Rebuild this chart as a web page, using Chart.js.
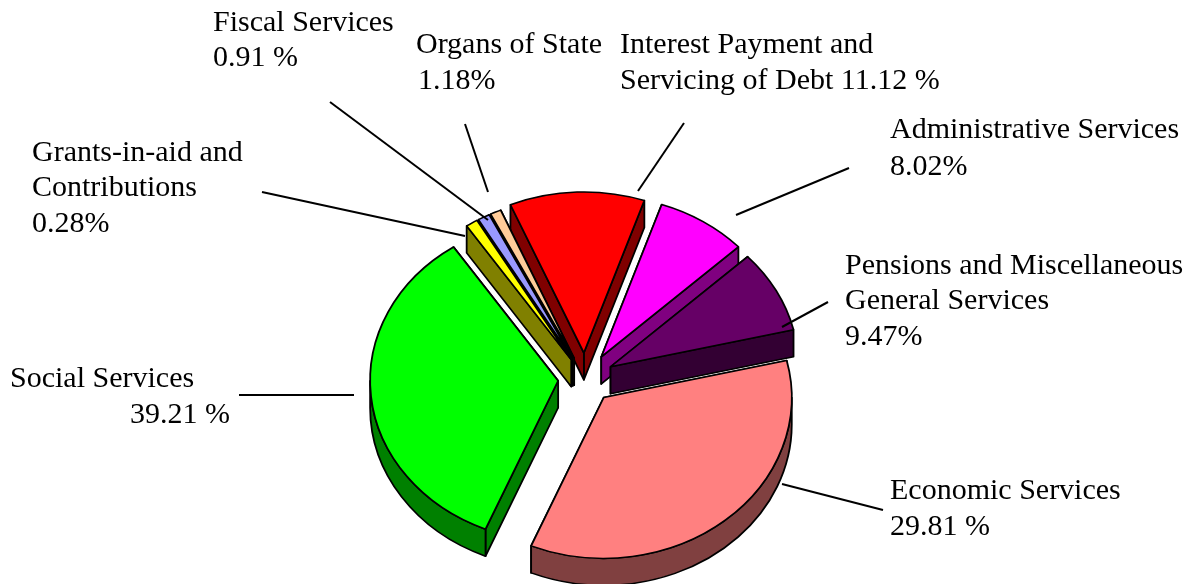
<!DOCTYPE html>
<html>
<head>
<meta charset="utf-8">
<style>html,body{margin:0;padding:0;background:#fff}#wrap{width:1189px;height:584px}canvas{display:block}</style>
<script src="https://cdn.jsdelivr.net/npm/chart.js@4"></script>
</head>
<body>
<div id="wrap"><canvas id="c" width="1189" height="584"></canvas></div>
<script>
// Categories, clockwise from the top slice
const categories = ['Interest Payment and Servicing of Debt','Administrative Services','Pensions and Miscellaneous General Services','Economic Services','Social Services','Grants-in-aid and Contributions','Fiscal Services','Organs of State'];
// Slice shares as measured from the drawn wedge angles. The reference's wedges do not
// follow its printed percentages exactly (Economic is drawn larger, Social smaller),
// so the printed figures are kept separately, in labelLines, as text.
const sliceShares = [11.6, 7.8, 8.3, 35.0, 34.3, 1.03, 1.03, 0.94];
const fillColors = ['#FF0000','#FF00FF','#660066','#FF8080','#00FF00','#FFFF00','#9999FF','#FFCC99'];
const sideColors = ['#800000','#800080','#330033','#804040','#008000','#808000','#4C4C80','#806650'];
const explode = [30, 30, 29, 29, 27, 26, 26, 26];
const labelLines = [
  {x:213,y:31,t:'Fiscal Services'},{x:213,y:66,t:'0.91 %'},
  {x:416,y:53,t:'Organs of State'},{x:418,y:89,t:'1.18%'},
  {x:620,y:53,t:'Interest Payment and'},{x:620,y:89,t:'Servicing of Debt 11.12 %'},
  {x:890,y:138,t:'Administrative Services'},{x:890,y:175,t:'8.02%'},
  {x:845,y:274,t:'Pensions and Miscellaneous'},{x:845,y:309,t:'General Services'},{x:845,y:345,t:'9.47%'},
  {x:890,y:499,t:'Economic Services'},{x:890,y:535,t:'29.81 %'},
  {x:10,y:387,t:'Social Services'},{x:130,y:423,t:'39.21 %'},
  {x:32,y:161,t:'Grants-in-aid and'},{x:32,y:196,t:'Contributions'},{x:32,y:232,t:'0.28%'}
];
const leaders = [[330,102,488,220],[465,124,488,192],[684,123,638,191],[849,168,736,215],[828,302,782,327],[782,484,883,510],[239,395,354,395],[262,192,465,236]];
const view = {cx:585, cy:378.5, squash:0.856, depth:27, radius:188, rotation:-23, line:1.8};

const pie3d = {
  id:'pie3d',
  beforeDatasetsDraw(chart){
    const ctx = chart.ctx, meta = chart.getDatasetMeta(0);
    const arcs = meta.data.map((el,i)=>({el,i,mid:(el.startAngle+el.endAngle)/2}));
    arcs.sort((a,b)=>Math.sin(a.mid)-Math.sin(b.mid));
    const d = view.depth/view.squash;
    ctx.save();
    ctx.translate(view.cx,view.cy);
    ctx.scale(1,view.squash);
    ctx.translate(-arcs[0].el.x,-arcs[0].el.y);
    ctx.lineJoin='round';
    ctx.lineWidth=view.line;
    ctx.strokeStyle='#000';
    for(const {el,i,mid} of arcs){
      const dx = Math.cos(mid)*explode[i], dy = Math.sin(mid)*explode[i];
      const ax = el.x, ay = el.y, r = el.outerRadius;
      ctx.save();
      ctx.translate(dx,dy);
      ctx.fillStyle = sideColors[i];
      const edges = [el.startAngle,el.endAngle].sort((p,q)=>Math.sin(p)-Math.sin(q));
      for(const a of edges){
        const ex=ax+Math.cos(a)*r, ey=ay+Math.sin(a)*r;
        ctx.beginPath();
        ctx.moveTo(ax,ay);ctx.lineTo(ex,ey);ctx.lineTo(ex,ey+d);ctx.lineTo(ax,ay+d);ctx.closePath();
        ctx.fill();ctx.stroke();
      }
      for(let k=-1;k<=1;k++){
        const s=Math.max(el.startAngle,2*Math.PI*k), e=Math.min(el.endAngle,Math.PI+2*Math.PI*k);
        if(e>s){
          ctx.beginPath();
          ctx.arc(ax,ay,r,s,e);
          ctx.arc(ax,ay+d,r,e,s,true);
          ctx.closePath();
          ctx.fill();ctx.stroke();
        }
      }
      el.draw(ctx);
      ctx.restore();
    }
    ctx.restore();
    return false;
  },
  afterDraw(chart){
    const ctx = chart.ctx;
    ctx.save();
    ctx.strokeStyle='#000';ctx.lineWidth=2;
    for(const [x1,y1,x2,y2] of leaders){
      ctx.beginPath();ctx.moveTo(x1,y1);ctx.lineTo(x2,y2);ctx.stroke();
    }
    ctx.fillStyle='#000';
    ctx.font='30px "Liberation Serif"';
    ctx.textBaseline='alphabetic';ctx.textAlign='left';
    for(const l of labelLines) ctx.fillText(l.t,l.x,l.y);
    ctx.restore();
  }
};

new Chart(document.getElementById('c'),{
  type:'pie',
  data:{labels:categories,datasets:[{data:sliceShares,backgroundColor:fillColors,borderColor:'#000',borderWidth:view.line,borderAlign:'center'}]},
  options:{
    responsive:false,animation:false,
    radius:view.radius,rotation:view.rotation,
    layout:{padding:0},
    events:[],
    plugins:{legend:{display:false},tooltip:{enabled:false},title:{display:false}}
  },
  plugins:[pie3d]
});
</script>
</body>
</html>
